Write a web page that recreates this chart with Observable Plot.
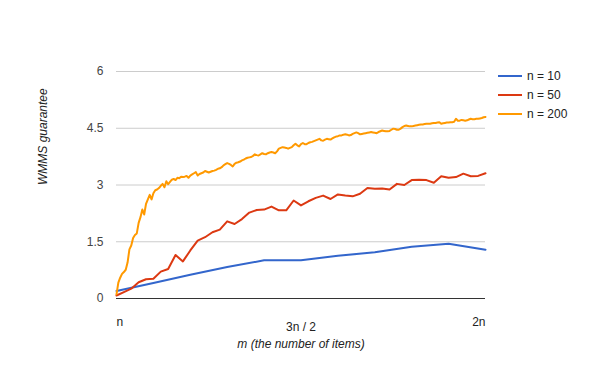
<!DOCTYPE html>
<html>
<head>
<meta charset="utf-8">
<script src="https://cdn.jsdelivr.net/npm/d3@7"></script>
<script src="https://cdn.jsdelivr.net/npm/@observablehq/plot@0.6"></script>
<style>
  html, body { margin: 0; padding: 0; background: #fff; }
  #chart { position: relative; width: 600px; height: 371px; font-family: "Liberation Sans", Arial, sans-serif; }
  #legend { position: absolute; left: 498px; top: 68px; font-size: 12px; color: #222; }
  #legend .row { position: relative; height: 19px; }
  #legend .swatch { position: absolute; left: 0; top: 7px; width: 24px; height: 2px; }
  #legend .label { position: absolute; left: 29px; top: 0; line-height: 16px; white-space: nowrap; }
</style>
</head>
<body>
<div id="chart"></div>
<script>
// WMMS guarantee as a function of m (number of items), m running from n to 2n.
const seriesNames = ["n = 10", "n = 50", "n = 200"];
const seriesN = [10, 50, 200];
const seriesColors = ["#3366cc", "#dc3912", "#ff9900"];

const n10 = [0.20, 0.41, 0.63, 0.83, 1.01, 1.01, 1.13, 1.22, 1.37, 1.45, 1.29];

const n50 = [
  0.08, 0.17, 0.26, 0.43, 0.51, 0.52, 0.71, 0.78, 1.15, 0.98,
  1.27, 1.53, 1.62, 1.75, 1.82, 2.04, 1.97, 2.10, 2.27, 2.34,
  2.35, 2.43, 2.33, 2.33, 2.59, 2.46, 2.57, 2.66, 2.72, 2.63,
  2.75, 2.72, 2.70, 2.77, 2.92, 2.90, 2.91, 2.88, 3.03, 3.00,
  3.13, 3.14, 3.13, 3.06, 3.23, 3.19, 3.21, 3.30, 3.23, 3.24,
  3.31
];

const n200 = [
  0.11, 0.42, 0.55, 0.65, 0.70, 0.76, 0.95, 1.30, 1.40, 1.60,
  1.68, 1.72, 2.00, 2.15, 2.35, 2.22, 2.50, 2.62, 2.74, 2.62,
  2.78, 2.86, 2.88, 2.92, 2.98, 3.03, 2.94, 3.10, 3.02, 3.08,
  3.14, 3.16, 3.13, 3.19, 3.18, 3.22, 3.21, 3.22, 3.24, 3.19,
  3.25, 3.28, 3.31, 3.34, 3.25, 3.29, 3.31, 3.33, 3.37, 3.35,
  3.33, 3.35, 3.37, 3.38, 3.40, 3.43, 3.44, 3.47, 3.52, 3.55,
  3.58, 3.56, 3.53, 3.49, 3.56, 3.59, 3.60, 3.62, 3.65, 3.67,
  3.70, 3.72, 3.73, 3.74, 3.77, 3.81, 3.79, 3.78, 3.81, 3.84,
  3.82, 3.81, 3.84, 3.86, 3.87, 3.86, 3.84, 3.89, 3.96, 3.98,
  4.00, 3.99, 3.98, 3.96, 3.98, 4.00, 4.05, 4.09, 4.05, 4.02,
  4.08, 4.11, 4.08, 4.08, 4.11, 4.13, 4.14, 4.16, 4.18, 4.20,
  4.22, 4.18, 4.17, 4.20, 4.22, 4.21, 4.20, 4.23, 4.26, 4.28,
  4.29, 4.31, 4.31, 4.33, 4.34, 4.33, 4.31, 4.32, 4.35, 4.37,
  4.39, 4.37, 4.34, 4.35, 4.36, 4.37, 4.38, 4.39, 4.40, 4.39,
  4.38, 4.37, 4.40, 4.42, 4.44, 4.43, 4.42, 4.42, 4.43, 4.46,
  4.49, 4.48, 4.46, 4.46, 4.49, 4.53, 4.56, 4.57, 4.56, 4.55,
  4.55, 4.56, 4.57, 4.58, 4.59, 4.60, 4.60, 4.61, 4.62, 4.62,
  4.62, 4.63, 4.64, 4.64, 4.65, 4.66, 4.62, 4.63, 4.64, 4.65,
  4.65, 4.66, 4.66, 4.67, 4.75, 4.70, 4.70, 4.72, 4.71, 4.70,
  4.71, 4.73, 4.75, 4.74, 4.74, 4.75, 4.75, 4.76, 4.77, 4.79,
  4.80
];

const yTicks = [0, 1.5, 3, 4.5, 6];
const xTickValues = [1, 1.5, 2];
const xTickLabels = ["n", "3n / 2", "2n"];

// x is m / n, so every series spans 1..2
const seriesValues = [n10, n50, n200];
const rows = seriesValues.flatMap((vals, s) =>
  vals.map((v, i) => ({series: seriesNames[s], x: (seriesN[s] + i) / seriesN[s], y: v}))
);

const xLabel = (d) => xTickLabels[xTickValues.indexOf(d)];

const plot = Plot.plot({
  width: 600,
  height: 371,
  marginLeft: 116,
  marginRight: 115,
  marginTop: 71,
  marginBottom: 73,
  style: {fontFamily: "'Liberation Sans', Arial, sans-serif", fontSize: "12px", background: "#fff", overflow: "visible"},
  x: {domain: [1, 2]},
  y: {domain: [0, 6]},
  color: {domain: seriesNames, range: seriesColors},
  marks: [
    Plot.gridY(yTicks, {stroke: "#cccccc", strokeOpacity: 1}),
    Plot.axisY(yTicks, {tickSize: 0, tickPadding: 13, fill: "#444", label: null, tickFormat: (d) => String(d)}),
    // edge labels sit inside the frame, the middle label a little lower
    Plot.axisX([xTickValues[0]], {tickSize: 0, tickPadding: 19, textAnchor: "start", fill: "#222", label: null, tickFormat: xLabel}),
    Plot.axisX([xTickValues[1]], {tickSize: 0, tickPadding: 24, fill: "#222", label: null, tickFormat: xLabel}),
    Plot.axisX([xTickValues[2]], {tickSize: 0, tickPadding: 19, textAnchor: "end", fill: "#222", label: null, tickFormat: xLabel}),
    Plot.ruleY([0], {stroke: "#333", strokeWidth: 1}),
    Plot.lineY(rows, {x: "x", y: "y", z: "series", stroke: "series", strokeWidth: 2, strokeLinejoin: "round"}),
    Plot.text(["WMMS guarantee"], {frameAnchor: "left", rotate: -90, dx: -73, fontStyle: "italic", fill: "#222", fontSize: 12}),
    Plot.text(["m (the number of items)"], {frameAnchor: "bottom", lineAnchor: "middle", dy: 46, fontStyle: "italic", fill: "#222", fontSize: 12})
  ]
});

const chart = document.getElementById("chart");
chart.appendChild(plot);

// legend to the right of the plot
const legend = document.createElement("div");
legend.id = "legend";
seriesNames.forEach((name, i) => {
  const row = document.createElement("div");
  row.className = "row";
  const sw = document.createElement("div");
  sw.className = "swatch";
  sw.style.background = seriesColors[i];
  const lab = document.createElement("div");
  lab.className = "label";
  lab.textContent = name;
  row.appendChild(sw);
  row.appendChild(lab);
  legend.appendChild(row);
});
chart.appendChild(legend);
</script>
</body>
</html>
